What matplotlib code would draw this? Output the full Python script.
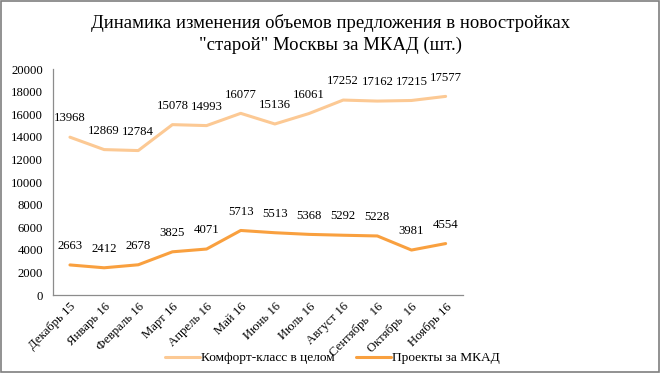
import matplotlib
matplotlib.use("Agg")
import matplotlib.pyplot as plt
from matplotlib.patches import Rectangle

months = [
    "Декабрь 15", "Январь 16", "Февраль 16", "Март 16", "Апрель 16", "Май 16",
    "Июнь 16", "Июль 16", "Август 16", "Сентябрь  16", "Октябрь  16", "Ноябрь 16",
]
comfort = [13968, 12869, 12784, 15078, 14993, 16077, 15136, 16061, 17252, 17162, 17215, 17577]
mkad = [2663, 2412, 2678, 3825, 4071, 5713, 5513, 5368, 5292, 5228, 3981, 4554]
series_names = ["Комфорт-класс в целом", "Проекты за МКАД"]
title = 'Динамика изменения объемов предложения в новостройках\n"старой" Москвы за МКАД (шт.)'

plt.rcParams["font.family"] = ["Liberation Serif", "DejaVu Serif"]

fig = plt.figure(figsize=(6.61, 3.73), dpi=100)
ax = fig.add_axes([0.080, 0.209, 0.620, 0.606])

x = list(range(len(months)))
colors = ["#FCC994", "#F9A03F"]
for vals, name, c in zip([comfort, mkad], series_names, colors):
    ax.plot(x, vals, color=c, lw=2.2, label=name, solid_capstyle="round")
    for xi, v in zip(x, vals):
        ax.annotate(str(v), (xi, v), xytext=(0, 13.5), textcoords="offset points",
                    ha="center", va="center", fontsize=9.2)

ax.set_xlim(-0.5, len(months) - 0.5)
ax.set_ylim(0, 20000)
ax.set_yticks(range(0, 20001, 2000))
ax.set_xticks(x)
ax.set_xticklabels(months, rotation=45, ha="right", rotation_mode="anchor")
ax.tick_params(axis="both", length=0, labelsize=9.2, pad=7)
ax.tick_params(axis="x", pad=4)
for s in ["top", "right"]:
    ax.spines[s].set_visible(False)
for s in ["left", "bottom"]:
    ax.spines[s].set_color("#8C8C8C")
    ax.spines[s].set_linewidth(0.9)

fig.suptitle(title, fontsize=13.5, y=0.962, va="top", linespacing=1.35)

fig.legend(loc="center", bbox_to_anchor=(0.503, 0.040), ncol=2, frameon=False,
           fontsize=9.6, handlelength=2.6, handletextpad=0.1, columnspacing=1.6)

fig.patches.append(Rectangle((0.002, 0.003), 0.995, 0.993, transform=fig.transFigure,
                             fill=False, edgecolor="#7F7F7F", lw=1.2))

fig.savefig("out.png", dpi=100)
